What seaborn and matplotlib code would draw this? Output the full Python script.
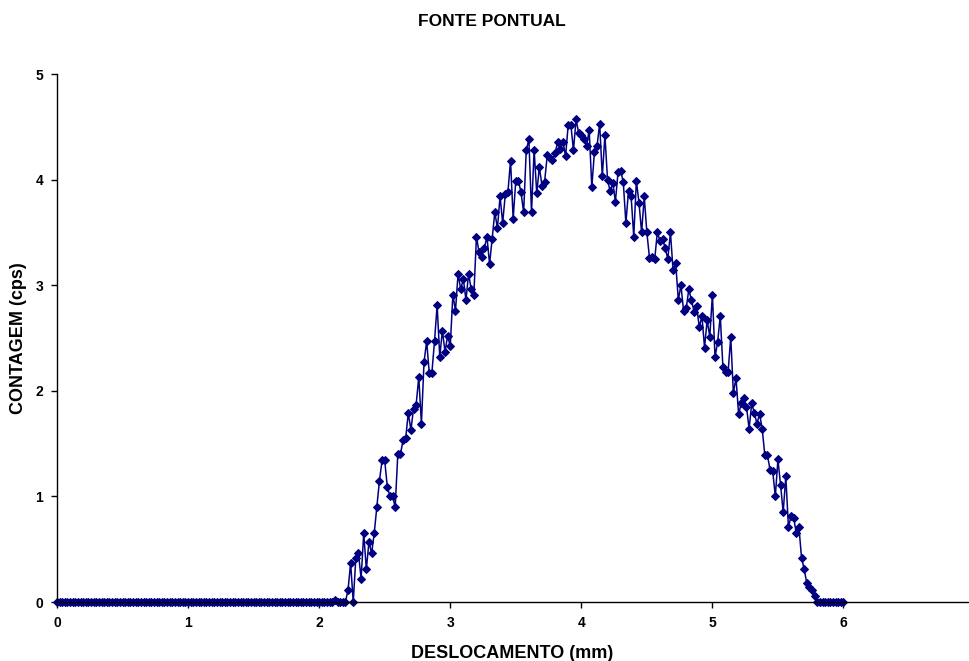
import numpy as np
import pandas as pd
import matplotlib
matplotlib.use("Agg")
import matplotlib.pyplot as plt
import seaborn as sns

# sampling grid of the scan (mm)
displacement = np.round(np.arange(0, 301) * 0.02, 2)

# counts
lead_zeros = [0.0] * 106
profile = [
    0.02, 0, 0, 0, 0, 0.11, 0.37, 0.0, 0.42, 0.46,
    0.22, 0.65, 0.31, 0.57, 0.46, 0.65, 0.9, 1.15, 1.34, 1.34,
    1.09, 1.0, 1.0, 0.9, 1.4, 1.4, 1.53, 1.55, 1.79, 1.63,
    1.83, 1.87, 2.13, 1.69, 2.27, 2.47, 2.17, 2.17, 2.47, 2.81,
    2.32, 2.57, 2.37, 2.52, 2.42, 2.91, 2.76, 3.11, 2.96, 3.06,
    2.86, 3.11, 2.96, 2.91, 3.46, 3.31, 3.27, 3.35, 3.46, 3.2,
    3.44, 3.69, 3.54, 3.84, 3.59, 3.86, 3.88, 4.18, 3.63, 3.99,
    3.99, 3.88, 3.69, 4.28, 4.38, 3.69, 4.28, 3.87, 4.12, 3.94,
    3.98, 4.23, 4.2, 4.19, 4.25, 4.36, 4.29, 4.36, 4.22, 4.52,
    4.52, 4.28, 4.57, 4.44, 4.42, 4.38, 4.32, 4.47, 3.93, 4.26,
    4.32, 4.53, 4.03, 4.42, 4.0, 3.89, 3.97, 3.79, 4.07, 4.08,
    3.98, 3.59, 3.89, 3.84, 3.46, 3.99, 3.78, 3.5, 3.84, 3.5,
    3.26, 3.27, 3.25, 3.5, 3.42, 3.44, 3.35, 3.25, 3.5, 3.14,
    3.21, 2.86, 3.0, 2.76, 2.78, 2.96, 2.86, 2.75, 2.8, 2.6,
    2.71, 2.41, 2.67, 2.51, 2.91, 2.32, 2.46, 2.71, 2.23, 2.18,
    2.18, 2.51, 1.98, 2.12, 1.78, 1.88, 1.93, 1.85, 1.64, 1.88,
    1.79, 1.69, 1.78, 1.64, 1.39, 1.39, 1.25, 1.24, 1.0, 1.35,
    1.11, 0.85, 1.19, 0.71, 0.81, 0.8, 0.65, 0.71, 0.42, 0.31,
    0.18, 0.14, 0.11, 0.06,
]
tail_zeros = [0.0] * 11
counts = lead_zeros + profile + tail_zeros

x_ticks = [0, 1, 2, 3, 4, 5, 6]
y_ticks = [0, 1, 2, 3, 4, 5]

df = pd.DataFrame({"x": displacement, "y": counts})

sns.set_theme(style="ticks")
plt.rcParams["font.family"] = ["Liberation Sans", "DejaVu Sans"]
plt.rcParams["text.color"] = "black"
plt.rcParams["axes.labelcolor"] = "black"
plt.rcParams["xtick.color"] = "black"
plt.rcParams["ytick.color"] = "black"

fig = plt.figure(figsize=(9.69, 6.61), dpi=100)
ax = fig.add_axes([57 / 969, 59 / 661, (968 - 57) / 969, (602 - 74) / 661])

sns.lineplot(data=df, x="x", y="y", ax=ax, color="#000080", linewidth=1.1,
             marker="D", markersize=4.3, markeredgecolor="#000080",
             markerfacecolor="#000080", clip_on=False)

ax.set_xlim(0, 6.95)
ax.set_ylim(0, 5)
ax.set_xticks(x_ticks)
ax.set_yticks(y_ticks)
ax.set_xticklabels([str(v) for v in x_ticks], fontweight="bold", fontsize=10)
ax.set_yticklabels([str(v) for v in y_ticks], fontweight="bold", fontsize=10)
ax.tick_params(axis="both", direction="out", length=4, width=1,
               color="black", labelcolor="black", pad=6)

for s in ["top", "right"]:
    ax.spines[s].set_visible(False)
for s in ["left", "bottom"]:
    ax.spines[s].set_color("black")
    ax.spines[s].set_linewidth(1)

ax.set_xlabel("DESLOCAMENTO (mm)", fontweight="bold", fontsize=13,
              labelpad=11, color="black")
ax.set_ylabel("CONTAGEM (cps)", fontweight="bold", fontsize=13,
              labelpad=6, color="black")
fig.text(0.508, 0.967, "FONTE PONTUAL", ha="center", va="center",
         fontweight="bold", fontsize=12.5, color="black")

fig.savefig("out.png", dpi=100)
